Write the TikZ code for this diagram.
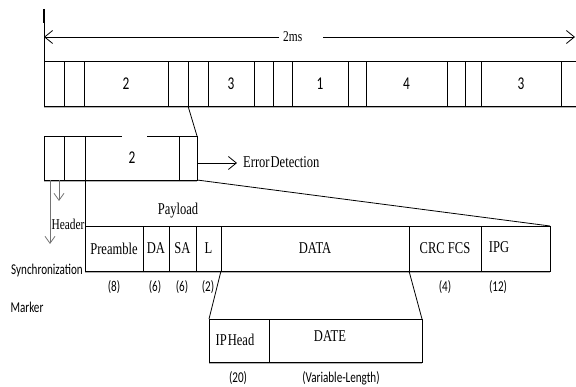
\documentclass[tikz,border=0pt]{standalone}
\usepackage{fontspec}
\usetikzlibrary{arrows.meta}
\newfontfamily\serc[FakeStretch=0.76]{Liberation Serif}
\newfontfamily\sanc[FakeStretch=0.74]{Carlito}
\tikzset{
 cell/.style={draw, line width=0.8pt, inner sep=0pt, outer sep=0pt, anchor=north west},
 lab/.style={inner sep=0pt, font=\serc\fontsize{16.5}{18}\selectfont},
 dig/.style={font=\sanc\fontsize{18}{20}\selectfont},
 sml/.style={inner sep=0pt, font=\sanc\fontsize{15}{17}\selectfont},
 conn/.style={line width=0.8pt},
 shd/.style={draw=black!30, line width=1.8pt},
 barb/.style={-{Straight Barb[length=8pt,width=13pt,line width=0.8pt]}},
 garr/.style={draw=black!55, line width=0.8pt, -{Straight Barb[length=7pt,width=10pt,line width=0.8pt]}},
}
\newcommand\mycell[7][]{\node[cell,#1,minimum width={#4-#3},minimum height={#6-#5}] (#2) at (#3,#5) {#7};}
\begin{document}
\begin{tikzpicture}[x=1pt,y=-1pt]
\useasboundingbox[fill=white] (0,0) rectangle (576,387);
% shadows
\draw[shd] (44,107.6) -- (576,107.6);
\draw[shd] (44,181.6) -- (197,181.6);
\draw[shd] (85,272.6) -- (550,272.6);
\draw[shd] (209,363.6) -- (422,363.6);
% top scale
\coordinate (tick) at (44,9);
\coordinate (al) at (44,37);
\coordinate (ar) at (575,37);
\node[lab, font=\serc\fontsize{15}{17}\selectfont, anchor=west] (ms) at (283,37) {2ms};
\draw[conn,barb] ([xshift=-4pt]ms.west) -- (al);
\draw[conn,barb] ([xshift=21pt]ms.east) -- (ar);
% top row
\mycell{t1}{44}{64}{61}{106}{}
\mycell{t2}{64}{84}{61}{106}{}
\mycell[dig]{t3}{84}{168}{61}{106}{2}
\mycell{t4}{168}{188}{61}{106}{}
\mycell{t5}{188}{208}{61}{106}{}
\mycell[dig]{t6}{208}{254}{61}{106}{3}
\mycell{t7}{254}{273}{61}{106}{}
\mycell{t8}{273}{292}{61}{106}{}
\mycell[dig]{t9}{292}{348}{61}{106}{1}
\mycell{t10}{348}{366}{61}{106}{}
\mycell[dig]{t11}{366}{447}{61}{106}{4}
\mycell{t12}{447}{465}{61}{106}{}
\mycell{t13}{465}{481}{61}{106}{}
\mycell[dig]{t14}{481}{561}{61}{106}{3}
\coordinate (te1) at (576,61);
\coordinate (te2) at (576,106);
\draw[conn] (t14.north east) -- (te1);
\draw[conn] (t14.south east) -- (te2);
\draw[line width=2pt] (tick) -- ++(0,14) coordinate (tickend);
\draw[conn] (tickend) -- (t1.north west);
% second box
\mycell{b1}{44}{64}{136}{180}{}
\mycell{b2}{64}{85}{136}{180}{}
\mycell[dig]{b3}{85}{179}{136}{180}{2}
\mycell{b4}{179}{197}{136}{180}{}
\coordinate (g1) at (122,136);
\coordinate (g2) at (147,136);
\draw[white, line width=2pt] (g1) -- (g2);
\draw[conn] (t5.south west) -- (b4.north east);
% error detection
\coordinate (ea) at (197,163);
\node[lab, anchor=west] (ed) at (243,162) {Error\kern1pt Detection};
\draw[conn,barb] (ea) -- ([xshift=-6pt]ed.west |- ea);
% payload row
\mycell[lab]{p1}{85}{143}{226}{271}{Preamble}
\mycell[lab]{p2}{143}{169}{226}{271}{DA}
\mycell[lab]{p3}{169}{196}{226}{271}{SA}
\mycell[lab]{p4}{196}{221}{226}{271}{L}
\mycell[lab]{p5}{221}{409}{226}{271}{DATA}
\mycell[lab]{p6}{409}{481}{226}{271}{CRC FCS}
\mycell{p7}{481}{550}{226}{271}{}
\node[lab] (ipg) at (499,247) {IPG};
\draw[conn] (b3.south west) -- (p1.north west);
\draw[conn] (b4.south east) -- (p7.north east);
\node[lab] (pl) at (178,211) {Payload};
\node[lab, font=\serc\fontsize{15}{17}\selectfont] (hd) at (68,224) {Header};
% header arrows
\coordinate (ha1) at (59,180);
\coordinate (ha2) at (59,201);
\coordinate (hb1) at (50,180);
\coordinate (hb2) at (50,244);
\draw[garr] (ha1) -- (ha2);
\draw[garr] (hb1) -- (hb2);
\node[sml] (sy) at (47,271) {Synchronization};
\node[sml] (mk) at (27,307) {Marker};
% sizes
\node[sml] (n1) at (114,287) {(8)};
\node[sml] (n2) at (155,287) {(6)};
\node[sml] (n3) at (182,287) {(6)};
\node[sml] (n4) at (208,287) {(2)};
\node[sml] (n5) at (445,287) {(4)};
\node[sml] (n6) at (498,287) {(12)};
% lower box
\mycell{i1}{209}{269}{319}{362}{}
\mycell{i2}{269}{422}{319}{362}{}
\node[lab] (iph) at (235,340) {IP\kern1pt Head};
\node[lab] (dt) at (330,336) {DATE};
\draw[conn] (p5.south west) -- (i1.north west);
\draw[conn] (p5.south east) -- (i2.north east);
\node[sml] (n7) at (238,378) {(20)};
\node[sml] (n8) at (341,378) {(Variable-Length)};
\end{tikzpicture}
\end{document}
